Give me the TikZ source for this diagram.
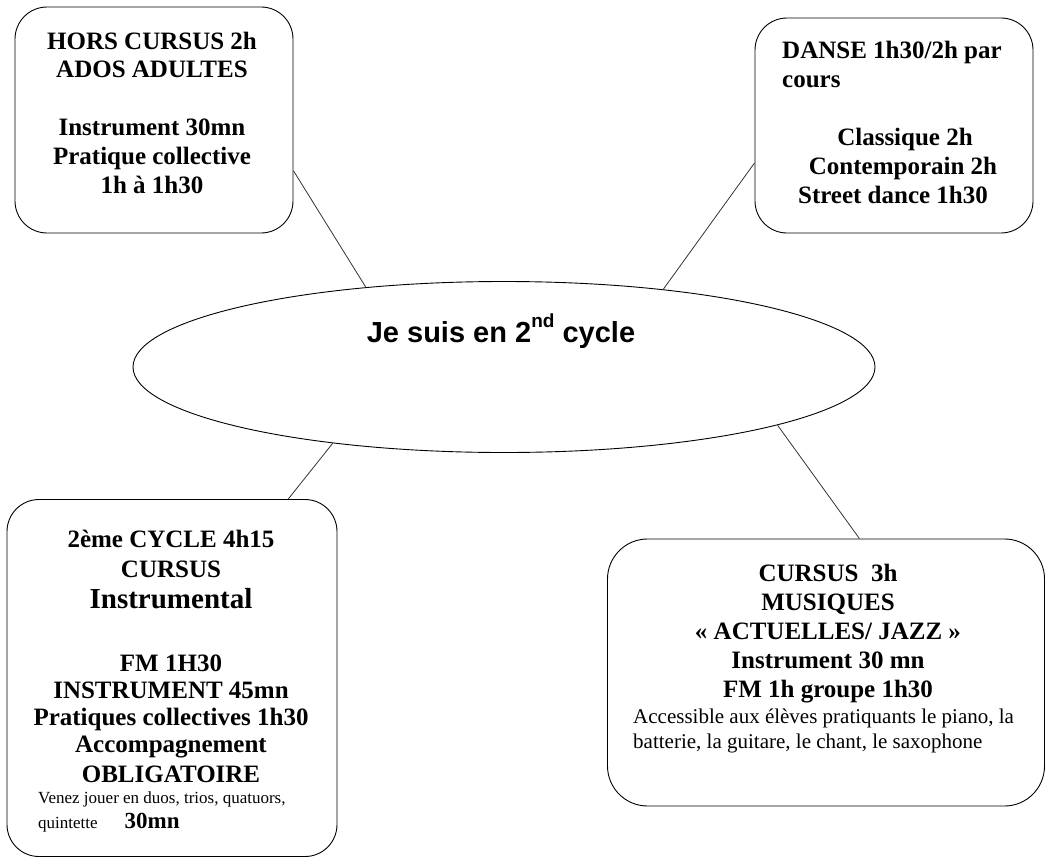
\documentclass[tikz,border=0pt]{standalone}
\usepackage{fontspec}
\setmainfont{Liberation Serif}
\newfontfamily\arialfont{Liberation Sans}
\usetikzlibrary{shapes.geometric}
\begin{document}
\begin{tikzpicture}[x=1pt,y=-1pt,
  box/.style={draw=black, line width=0.9pt, rounded corners=32pt, inner sep=0pt},
  link/.style={draw=black!80, line width=0.8pt},
  bigb/.style={font={\fontsize{25}{28.8}\selectfont\bfseries}, inner sep=0pt},
  bigbt/.style={font={\fontsize{25}{27}\selectfont\bfseries}, inner sep=0pt},
  smallr/.style={font={\fontsize{21}{25}\selectfont}, inner sep=0pt},
  tinyr/.style={font={\fontsize{17}{25}\selectfont}, inner sep=0pt}]
\useasboundingbox (0,0) rectangle (1046,859);
% boxes
\node[box, minimum width=278pt, minimum height=226pt] (tl) at (154,120) {};
\node[box, minimum width=278pt, minimum height=215pt] (tr) at (894,125.5) {};
\node[box, minimum width=330pt, minimum height=357pt] (bl) at (172,678) {};
\node[box, minimum width=437pt, minimum height=267pt, rounded corners=40pt] (br) at (826,672.5) {};
\node[draw=black, ellipse, line width=0.9pt, minimum width=742pt, minimum height=171pt, inner sep=0pt] (el) at (504,367) {};
% texts
\node[font={\arialfont\bfseries\fontsize{29}{32}\selectfont}, inner sep=0pt, anchor=base] (eltext) at (501,342) {Je suis en 2\raisebox{0.5em}{\arialfont\bfseries\fontsize{19}{20}\selectfont nd} cycle};
\node[bigb, align=center, anchor=base] (tltext) at (152,193) {HORS CURSUS 2h\\ADOS ADULTES\\[28.8pt]Instrument 30mn\\Pratique collective\\1h à 1h30};
\node[bigb, align=left, anchor=base west] (trhead) at (782,87) {DANSE 1h30/2h par\\cours};
\node[bigb, align=center, anchor=base] (trbody) at (903,203) {\hspace*{4pt}Classique 2h\\Contemporain 2h\\Street dance 1h30\hspace*{20pt}};
\node[bigb, align=center, anchor=base] (blhead) at (171,608) {2ème CYCLE 4h15\\[1pt]CURSUS\\[2pt]{\fontsize{29}{31}\selectfont Instrumental}};
\node[bigbt, align=center, anchor=base] (blbody) at (171,782) {FM 1H30\\INSTRUMENT 45mn\\Pratiques collectives 1h30\\Accompagnement\\[3pt]OBLIGATOIRE};
\node[tinyr, align=left, anchor=base west] (blnote) at (38,828) {Venez jouer en duos, trios, quatuors,\\quintette\hspace{27pt}{\fontsize{23}{25}\selectfont\bfseries 30mn}};
\node[bigb, align=center, anchor=base] (brhead) at (828,697) {CURSUS~~3h\\MUSIQUES\\« ACTUELLES/ JAZZ »\\Instrument 30 mn\\FM 1h groupe 1h30};
\node[smallr, align=left, anchor=base west] (brnote) at (633,748) {Accessible aux élèves pratiquants le piano, la\\batterie, la guitare, le chant, le saxophone};
% connectors
\draw[link] (tl.-20.5) -- (el.150);
\draw[link] (tr.-165.7) -- (el.26.5);
\draw[link] (bl.57.1) -- (el.-156.5);
\draw[link] (br.76.9) -- (el.-12.2);
\end{tikzpicture}
\end{document}
